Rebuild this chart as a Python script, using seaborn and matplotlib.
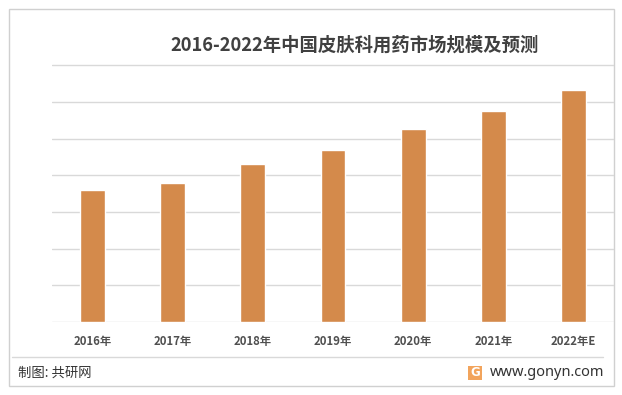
import matplotlib
matplotlib.use("Agg")
import matplotlib.pyplot as plt
import seaborn as sns
import pandas as pd
from matplotlib.patches import Rectangle
from matplotlib.lines import Line2D

# ---- data ----
years = ["2016年", "2017年", "2018年", "2019年", "2020年", "2021年", "2022年E"]
market_size = [180, 189, 215, 234, 263, 287, 316]
y_ticks = [0, 50, 100, 150, 200, 250, 300, 350]

title = "2016-2022年中国皮肤科用药市场规模及预测"
source = "制图: 共研网"
site = "www.gonyn.com"

sns.set_theme(style="white")
plt.rcParams['font.family'] = ['Noto Sans CJK SC', 'DejaVu Sans']

W, H = 622, 395
fig = plt.figure(figsize=(W / 100, H / 100), dpi=100)
fig.patch.set_facecolor("white")

def fx(px):
    return px / W

def fy(py):
    return 1 - py / H

# outer frame
fig.add_artist(Rectangle((fx(9), fy(386)), fx(614) - fx(9), fy(9) - fy(386),
                         transform=fig.transFigure, fill=False,
                         edgecolor="#D0D0D0", linewidth=1.0, zorder=0))

ax = fig.add_axes([fx(52.4), fy(322), fx(613.6) - fx(52.4), fy(64) - fy(322)])
ax.set_facecolor("none")

df = pd.DataFrame({"year": years, "value": market_size})
sns.barplot(data=df, x="year", y="value", color="#D48A4B", width=0.31,
            saturation=1, ax=ax, zorder=3)

ax.set_xlim(-0.5, len(years) - 0.5)
ax.set_ylim(0, 351.5)
ax.set_yticks(y_ticks)
ax.set_yticklabels([])
ax.yaxis.grid(True, color="#D9D9D9", linewidth=1.0, zorder=0)
ax.set_axisbelow(True)
for s in ax.spines.values():
    s.set_visible(False)
ax.set_xlabel("")
ax.set_ylabel("")
ax.tick_params(axis="both", length=0)
ax.tick_params(axis="x", pad=9, labelsize=8.2, labelcolor="#505050")
for lbl in ax.get_xticklabels():
    lbl.set_fontweight("bold")

# title
fig.text(fx(355), fy(45), title, fontsize=13.2, fontweight="bold", color="#404040",
         ha="center", va="center")

# separator line
fig.add_artist(Line2D([fx(12), fx(603)], [fy(357), fy(357)], transform=fig.transFigure,
                      color="#D9D9D9", linewidth=1.0))

# footer
fig.text(fx(18), fy(373), source, fontsize=9.6, color="#333333", ha="left", va="center")
fig.text(fx(604), fy(373), site, fontsize=10.5, color="#333333", ha="right", va="center",
         family=["Noto Sans", "DejaVu Sans"])
fig.add_artist(Rectangle((fx(468), fy(380)), fx(14), fy(366) - fy(380),
                         transform=fig.transFigure, facecolor="#F2A45C",
                         edgecolor="none"))
fig.text(fx(475), fy(373), "G", fontsize=8.5, fontweight="bold", color="white",
         ha="center", va="center", family=["DejaVu Sans"])

fig.savefig("out.png", dpi=100, facecolor="white")
